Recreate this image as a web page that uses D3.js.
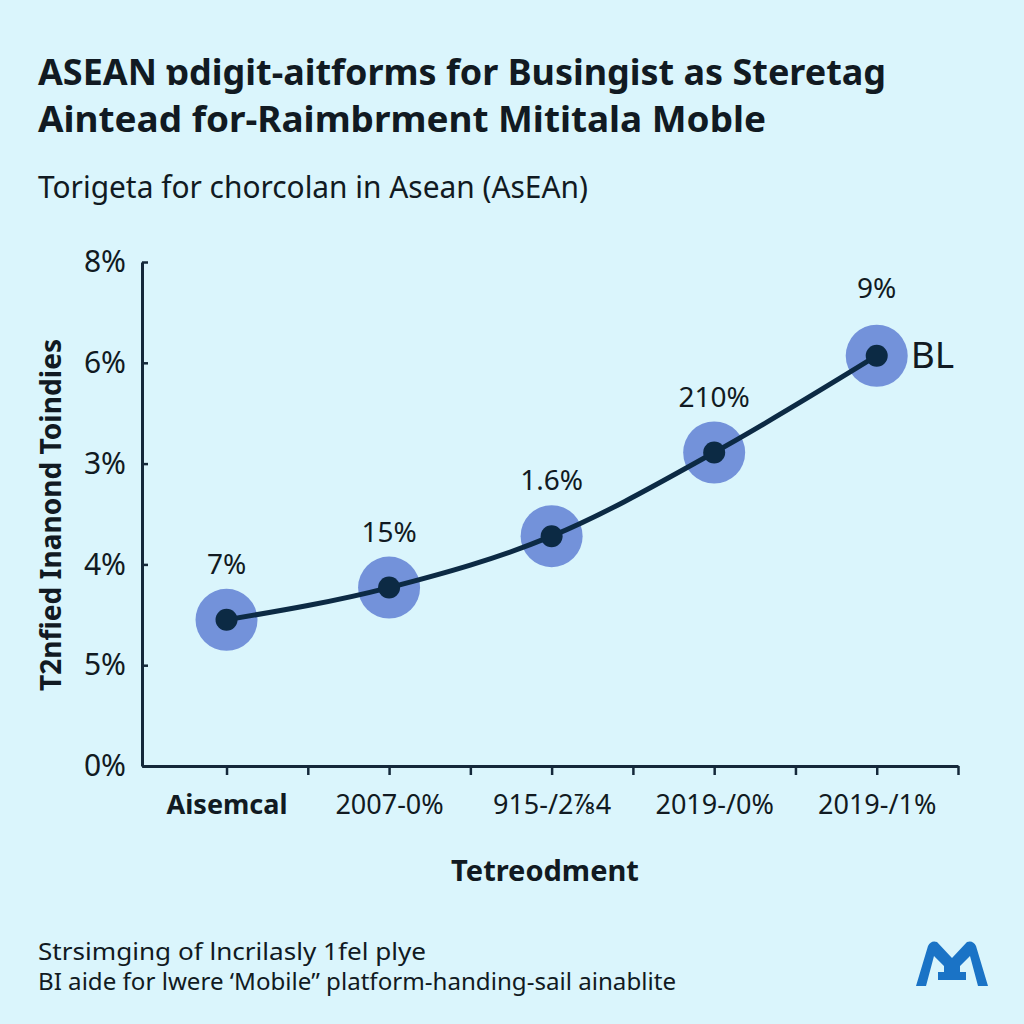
<!DOCTYPE html>
<html>
<head>
<meta charset="utf-8">
<script src="https://cdn.jsdelivr.net/npm/d3@7"></script>
<style>
  html, body { margin: 0; padding: 0; background: #daf5fc; }
  svg { display: block; }
  text { font-family: "Noto Sans", "Open Sans", sans-serif; fill: #111a22; }
</style>
</head>
<body>
<div id="chart"></div>
<script>
// chart values
const categories = ["Aisemcal", "2007-0%", "915-/2⅞4", "2019-/0%", "2019-/1%"];
const seriesValues = [1.45, 1.77, 2.28, 3.11, 4.07];
const pointLabels = ["7%", "15%", "1.6%", "210%", "9%"];
const yTickLabels = ["0%", "5%", "4%", "3%", "6%", "8%"];
const titleLines = ["ASEAN ɒdigit-aitforms for Busingist as Steretag", "Aintead for-Raimbrment Mititala Moble"];
const subtitle = "Torigeta for chorcolan in Asean (AsEAn)";
const footerLines = ["Strsimging of lncrilasly 1fel plye", "BI aide for lwere ‘Mobile” platform-handing-sail ainablite"];

const width = 1024, height = 1024;

const svg = d3.select("#chart").append("svg")
    .attr("width", width)
    .attr("height", height);

svg.append("rect").attr("width", width).attr("height", height).attr("fill", "#daf5fc");

// title + subtitle
svg.selectAll(".title")
    .data(titleLines)
    .enter().append("text")
    .attr("class", "title")
    .attr("x", 38)
    .attr("y", (d, i) => 85 + i * 47)
    .attr("font-size", 35)
    .attr("font-weight", "bold")
    .attr("textLength", (d, i) => i === 0 ? 848 : 728)
    .attr("lengthAdjust", "spacingAndGlyphs")
    .text(d => d);

svg.append("text")
    .attr("x", 38)
    .attr("y", 198)
    .attr("font-size", 30)
    .attr("textLength", 550)
    .attr("lengthAdjust", "spacingAndGlyphs")
    .text(subtitle);

// scales
const x = d3.scaleLinear().domain([-0.52, 4.5]).range([142, 958]);
const y = d3.scaleLinear().domain([0, 5]).range([766, 262]);

const axisColor = "#14283a";

const yAxis = svg.append("g")
    .attr("transform", "translate(142,0)")
    .call(d3.axisLeft(y)
        .tickValues(d3.range(0, 6))
        .tickFormat(i => yTickLabels[i])
        .tickSizeInner(-6)
        .tickSizeOuter(0)
        .tickPadding(16));
yAxis.select(".domain").attr("stroke", axisColor).attr("stroke-width", 3);
yAxis.selectAll(".tick line").attr("stroke", axisColor).attr("stroke-width", 2.5);
yAxis.selectAll(".tick text")
    .attr("font-size", 30)
    .attr("font-family", "'Noto Sans', sans-serif")
    .attr("fill", "#111a22");

const xAxis = svg.append("g")
    .attr("transform", "translate(0,766)")
    .call(d3.axisBottom(x)
        .tickValues(d3.range(0, 4.51, 0.5))
        .tickFormat(d => Number.isInteger(d) ? categories[d] : "")
        .tickSizeInner(9)
        .tickSizeOuter(0)
        .tickPadding(20));
xAxis.select(".domain").attr("stroke", axisColor).attr("stroke-width", 3);
xAxis.selectAll(".tick line").attr("stroke", axisColor).attr("stroke-width", 2.5);
xAxis.selectAll(".tick text")
    .attr("font-size", 27)
    .attr("font-family", "'Noto Sans', sans-serif")
    .attr("fill", "#111a22")
    .attr("font-weight", d => d === 0 ? "bold" : "normal");

// axis titles
svg.append("text")
    .attr("transform", "translate(61,515) rotate(-90)")
    .attr("text-anchor", "middle")
    .attr("font-size", 29)
    .attr("font-weight", "bold")
    .attr("textLength", 352)
    .attr("lengthAdjust", "spacingAndGlyphs")
    .text("T2nfied Inanond Toindies");

svg.append("text")
    .attr("x", 545)
    .attr("y", 881)
    .attr("text-anchor", "middle")
    .attr("font-size", 29)
    .attr("font-weight", "bold")
    .text("Tetreodment");

// line + points
const pts = seriesValues.map((v, i) => ({ i: i, v: v, label: pointLabels[i] }));

const line = d3.line()
    .x(d => x(d.i))
    .y(d => y(d.v))
    .curve(d3.curveMonotoneX);

svg.append("g").selectAll("circle.halo")
    .data(pts)
    .enter().append("circle")
    .attr("class", "halo")
    .attr("cx", d => x(d.i))
    .attr("cy", d => y(d.v))
    .attr("r", 31)
    .attr("fill", "#7392da");

svg.append("path")
    .datum(pts)
    .attr("d", line)
    .attr("fill", "none")
    .attr("stroke", "#0c2a44")
    .attr("stroke-width", 5)
    .attr("stroke-linecap", "round");

svg.append("g").selectAll("circle.dot")
    .data(pts)
    .enter().append("circle")
    .attr("class", "dot")
    .attr("cx", d => x(d.i))
    .attr("cy", d => y(d.v))
    .attr("r", 11)
    .attr("fill", "#0c2a44");

svg.append("g").selectAll("text.vlabel")
    .data(pts)
    .enter().append("text")
    .attr("class", "vlabel")
    .attr("x", d => x(d.i))
    .attr("y", (d, i) => y(d.v) - (i === pts.length - 1 ? 58 : 46))
    .attr("text-anchor", "middle")
    .attr("font-size", 28)
    .text(d => d.label);

const last = pts[pts.length - 1];
svg.append("text")
    .attr("x", x(last.i) + 34)
    .attr("y", y(last.v) + 12)
    .attr("font-size", 37)
    .text("BL");

// footer
svg.selectAll(".footer")
    .data(footerLines)
    .enter().append("text")
    .attr("class", "footer")
    .attr("x", 38)
    .attr("y", (d, i) => 960 + i * 30)
    .attr("font-size", 23)
    .attr("textLength", (d, i) => i === 0 ? 388 : 638)
    .attr("lengthAdjust", "spacingAndGlyphs")
    .text(d => d);

// logo
svg.append("path")
    .attr("transform", "translate(914,938)")
    .attr("d", "M2 48 L14 8 Q17 2 23 4 L38 20 L53 4 Q59 2 62 8 L74 48 L64 48 L56 18 L46 28 L46 34 L52 34 L52 42 L24 42 L24 34 L30 34 L30 28 L20 18 L12 48 Z M34 26 L42 26 L42 34 L34 34 Z")
    .attr("fill", "#1a73c6");
</script>
</body>
</html>
